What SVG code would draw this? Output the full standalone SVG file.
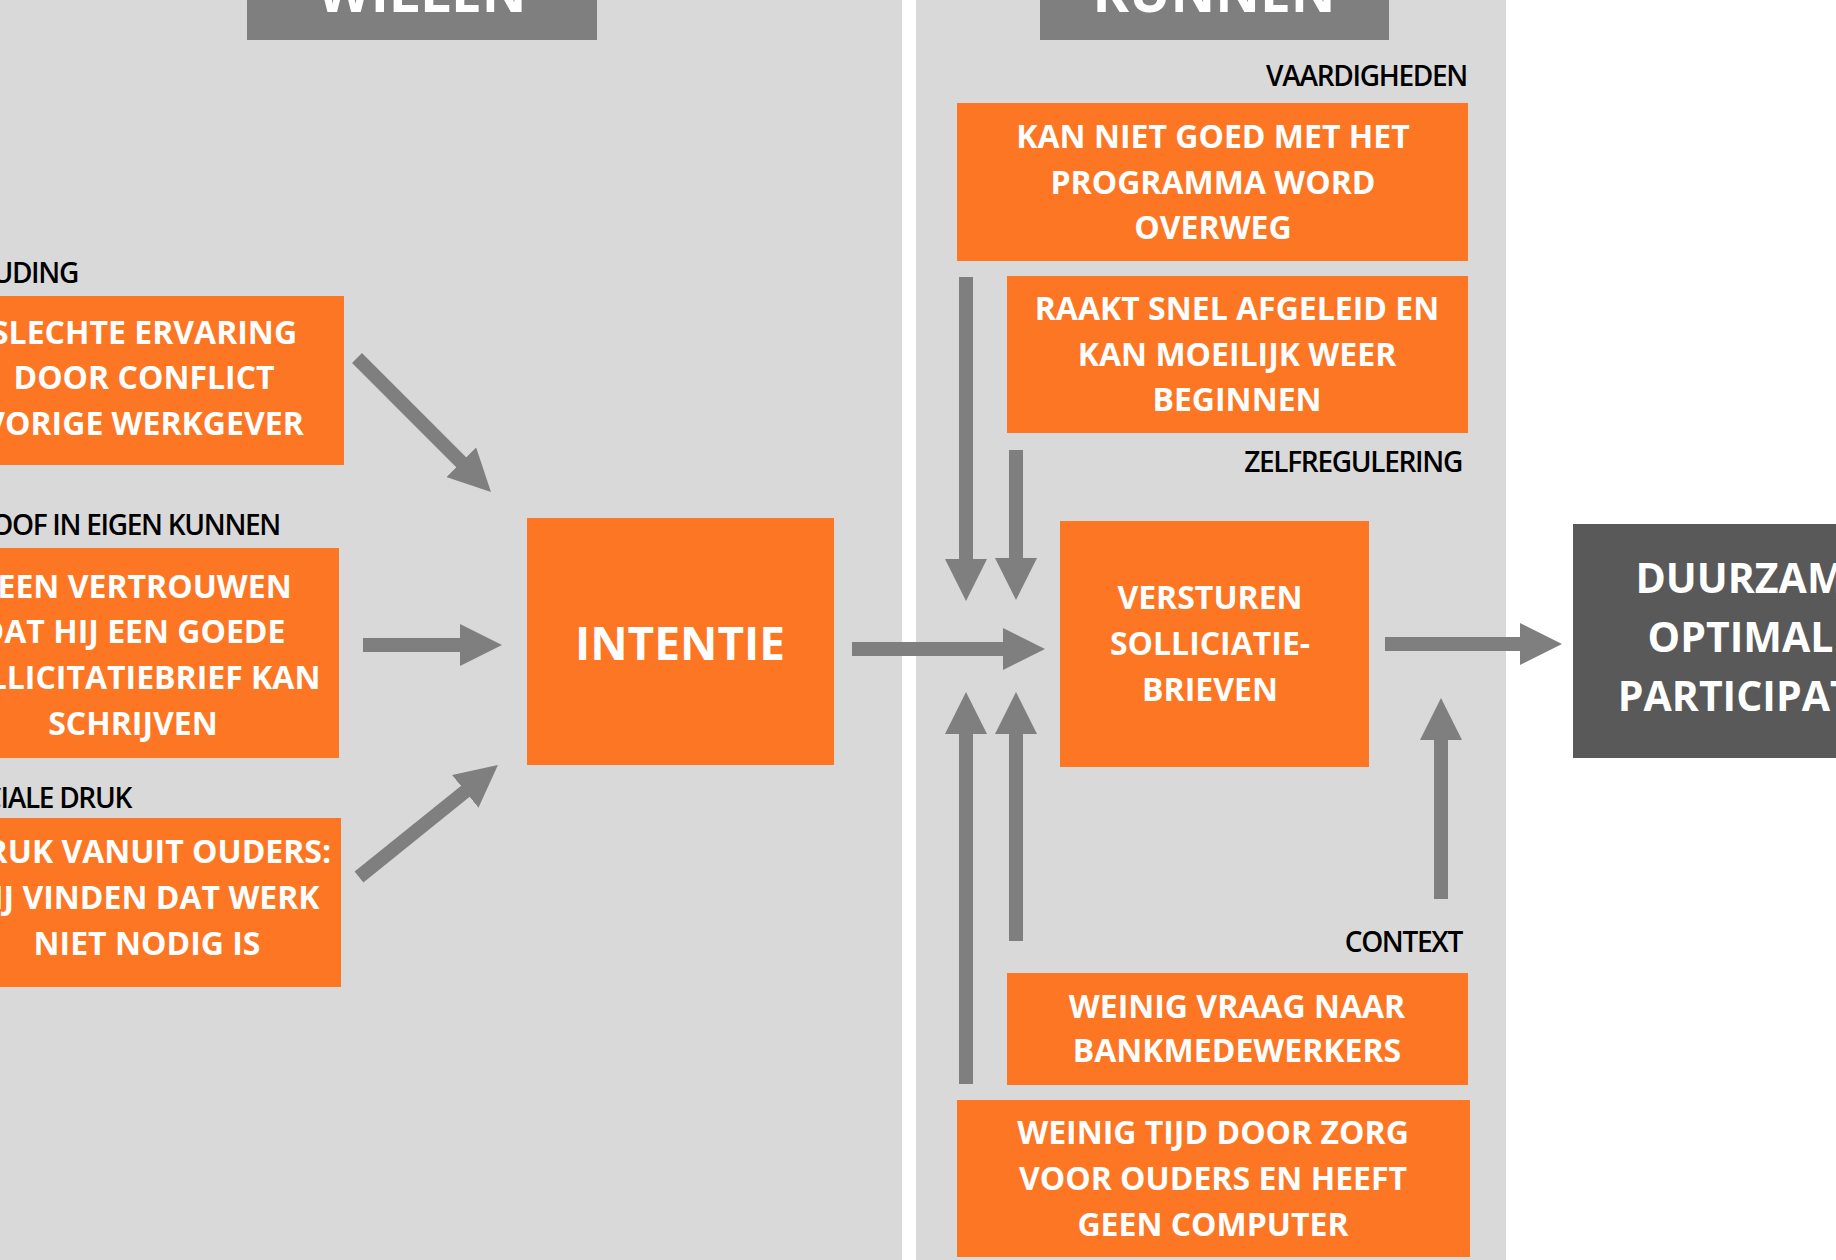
<svg xmlns="http://www.w3.org/2000/svg" width="1836" height="1260" viewBox="0 0 1836 1260">
<style>
.panel{fill:#D9D9D9}
.hdr{fill:#7F7F7F}
.box{fill:#FD7624}
.dark{fill:#595959}
.t{font-family:"Open Sans","Liberation Sans",sans-serif;font-weight:700;fill:#FFFFFF;text-anchor:middle;font-size:32px}
.big{font-size:46px}
.out{font-size:41px}
.head{font-size:55px}
.lbl{font-family:"Open Sans","Liberation Sans",sans-serif;font-size:28px;font-weight:600;letter-spacing:-1.3px;fill:#000000;text-anchor:end}
.arrow{stroke:#7F7F7F;stroke-width:14;fill:none;marker-end:url(#ah)}
</style>
<defs>
<marker id="ah" viewBox="0 0 10 10" refX="2" refY="5" markerWidth="3" markerHeight="3" orient="auto" markerUnits="strokeWidth">
<path d="M0,0 L10,5 L0,10 z" fill="#7F7F7F"/>
</marker>
</defs>
<rect x="0" y="0" width="1836" height="1260" fill="#FFFFFF"/>
<rect class="panel" x="0" y="0" width="902" height="1260"/>
<rect class="panel" x="916" y="0" width="590" height="1260"/>

<g id="willen">
<rect class="hdr" x="247" y="-10" width="350" height="50"/>
<text class="t head" x="422" y="12">WILLEN</text>
</g>
<g id="kunnen">
<rect class="hdr" x="1040" y="-10" width="349" height="50"/>
<text class="t head" x="1214" y="12">KUNNEN</text>
</g>

<g id="houding">
<text class="lbl" x="78" y="283">HOUDING</text>
<rect class="box" x="-80" y="296" width="424" height="169"/>
<text class="t" x="144" y="344">SLECHTE ERVARING</text>
<text class="t" x="144" y="389">DOOR CONFLICT</text>
<text class="t" x="144" y="435">VORIGE WERKGEVER</text>
</g>

<g id="geloof">
<text class="lbl" x="280" y="535">GELOOF IN EIGEN KUNNEN</text>
<rect class="box" x="-80" y="548" width="419" height="210"/>
<text class="t" x="133" y="598">GEEN VERTROUWEN</text>
<text class="t" x="133" y="643">DAT HIJ EEN GOEDE</text>
<text class="t" x="133" y="689">SOLLICITATIEBRIEF KAN</text>
<text class="t" x="133" y="735">SCHRIJVEN</text>
</g>

<g id="sociale-druk">
<text class="lbl" x="131" y="808">SOCIALE DRUK</text>
<rect class="box" x="-80" y="818" width="421" height="169"/>
<text class="t" x="147" y="863">DRUK VANUIT OUDERS:</text>
<text class="t" x="147" y="909">ZIJ VINDEN DAT WERK</text>
<text class="t" x="147" y="955">NIET NODIG IS</text>
</g>

<g id="intentie">
<rect class="box" x="527" y="518" width="307" height="247"/>
<text class="t big" x="680" y="660">INTENTIE</text>
</g>

<g id="vaardigheden">
<text class="lbl" x="1467" y="86">VAARDIGHEDEN</text>
<rect class="box" x="957" y="103" width="511" height="158"/>
<text class="t" x="1213" y="148">KAN NIET GOED MET HET</text>
<text class="t" x="1213" y="194">PROGRAMMA WORD</text>
<text class="t" x="1213" y="239">OVERWEG</text>
</g>

<g id="zelfregulering">
<rect class="box" x="1007" y="276" width="461" height="157"/>
<text class="t" x="1237" y="320">RAAKT SNEL AFGELEID EN</text>
<text class="t" x="1237" y="366">KAN MOEILIJK WEER</text>
<text class="t" x="1237" y="411">BEGINNEN</text>
<text class="lbl" x="1462" y="472">ZELFREGULERING</text>
</g>

<g id="versturen">
<rect class="box" x="1060" y="521" width="309" height="246"/>
<text class="t" x="1210" y="609">VERSTUREN</text>
<text class="t" x="1210" y="655">SOLLICIATIE-</text>
<text class="t" x="1210" y="701">BRIEVEN</text>
</g>

<g id="context">
<text class="lbl" x="1462" y="952">CONTEXT</text>
<rect class="box" x="1007" y="973" width="461" height="112"/>
<text class="t" x="1237" y="1018">WEINIG VRAAG NAAR</text>
<text class="t" x="1237" y="1062">BANKMEDEWERKERS</text>
</g>

<g id="weinig-tijd">
<rect class="box" x="957" y="1100" width="513" height="157"/>
<text class="t" x="1213" y="1144">WEINIG TIJD DOOR ZORG</text>
<text class="t" x="1213" y="1190">VOOR OUDERS EN HEEFT</text>
<text class="t" x="1213" y="1236">GEEN COMPUTER</text>
</g>

<g id="participatie">
<rect class="dark" x="1573" y="524" width="360" height="234"/>
<text class="t out" x="1752" y="593">DUURZAME</text>
<text class="t out" x="1752" y="652">OPTIMALE</text>
<text class="t out" x="1754" y="711">PARTICIPATIE</text>
</g>

<g id="connectors">
<line class="arrow" x1="357" y1="358" x2="467.2" y2="468.2"/>
<line class="arrow" x1="363" y1="645" x2="468.4" y2="645"/>
<line class="arrow" x1="359" y1="877" x2="471.8" y2="786.1"/>
<line class="arrow" x1="852" y1="649" x2="1011.4" y2="649"/>
<line class="arrow" x1="1385" y1="644" x2="1528.4" y2="644"/>
<line class="arrow" x1="966" y1="277" x2="966" y2="567.4"/>
<line class="arrow" x1="1016" y1="450" x2="1016" y2="566.4"/>
<line class="arrow" x1="966" y1="1084" x2="966" y2="725.6"/>
<line class="arrow" x1="1016" y1="941" x2="1016" y2="725.6"/>
<line class="arrow" x1="1441" y1="899" x2="1441" y2="731.6"/>
</g>
</svg>
